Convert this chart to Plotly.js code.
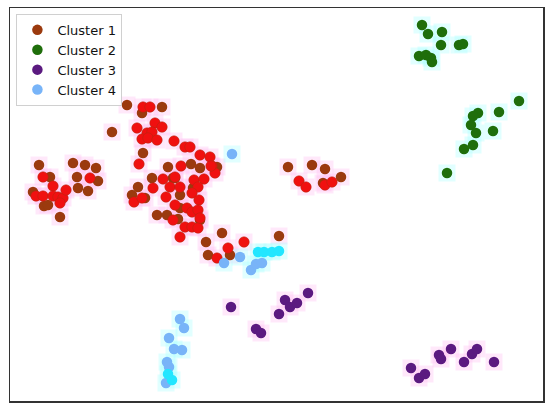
<!DOCTYPE html>
<html>
<head>
<meta charset="utf-8">
<script src="https://cdn.plot.ly/plotly-3.0.1.min.js"></script>
<style>html,body{margin:0;padding:0;background:#fff;}#chart{width:550px;height:408px;}</style>
</head>
<body>
<div id="chart"></div>
<script>
// Values (plot units = picture position inside the frame)
var c1DarkX = [127,112,143,142,162,39,73,85,96,50,77,98,78,88,33,44,48,60,288,312,325,341,323,168,191,200,217,138,152,173,180,193,157,167,178,200,222,206,208,279,230,175,132,145,180];
var c1DarkY = [105,132,153,113,107,165,163,165,168,177,177,181,188,191,192,206,205,217,167,165,169,177,183,167,164,168,167,187,178,178,195,188,215,215,219,220,233,242,255,236,255,178,195,198,208];
var c1RedX  = [143,150,137,155,162,147,152,142,148,157,174,185,190,200,210,139,181,212,215,43,90,53,36,43,53,58,63,66,60,163,175,194,204,153,170,180,198,134,142,166,192,199,175,187,192,198,173,185,192,198,180,244,217,228,299,306,325,332,200,211];
var c1RedY  = [107,107,128,123,127,133,132,139,138,140,141,147,147,155,157,164,166,166,173,177,178,186,196,196,196,197,198,190,203,179,177,180,179,188,187,187,187,202,198,197,193,200,205,208,212,210,220,227,227,228,237,242,258,248,181,187,185,182,218,166];
var c2X = [422,428,442,441,459,463,419,426,431,432,519,478,473,499,471,476,493,473,464,447];
var c2Y = [25,34,32,45,45,44,56,55,58,62,101,113,116,112,125,133,131,145,149,173];
var c3X = [411,419,425,439,441,451,464,472,477,494,231,256,261,279,285,290,297,308];
var c3Y = [368,378,374,355,359,349,362,354,349,362,307,329,333,314,300,307,303,293];
var c4BlueX = [180,184,169,174,182,167,169,166,224,240,251,256,262,232];
var c4BlueY = [319,328,338,349,350,362,367,383,263,257,270,264,263,154];
var c4CyanX = [172,168,258,264,272,279];
var c4CyanY = [380,374,252,252,252,251];

var pinkX = c1DarkX.concat(c1RedX, c3X), pinkY = c1DarkY.concat(c1RedY, c3Y);
var cyanX = c2X.concat(c4BlueX, c4CyanX), cyanY = c2Y.concat(c4BlueY, c4CyanY);

var traces = [
  {x: pinkX, y: pinkY, mode: 'markers', type: 'scatter', showlegend: false, hoverinfo: 'skip',
   marker: {symbol: 'square', size: 17, color: 'rgba(255,190,240,0.35)'}},
  {x: cyanX, y: cyanY, mode: 'markers', type: 'scatter', showlegend: false, hoverinfo: 'skip',
   marker: {symbol: 'square', size: 17, color: 'rgba(170,255,255,0.35)'}},
  {x: c1DarkX, y: c1DarkY, name: 'Cluster 1', mode: 'markers', type: 'scatter', legendgroup: 'c1',
   marker: {size: 10.5, color: '#9b3a0e'}},
  {x: c1RedX, y: c1RedY, name: 'Cluster 1', mode: 'markers', type: 'scatter', legendgroup: 'c1', showlegend: false,
   marker: {size: 10.5, color: '#f01010', line: {color: '#b02a10', width: 0.5}}},
  {x: c2X, y: c2Y, name: 'Cluster 2', mode: 'markers', type: 'scatter',
   marker: {size: 10.5, color: '#1f6e0b'}},
  {x: c3X, y: c3Y, name: 'Cluster 3', mode: 'markers', type: 'scatter',
   marker: {size: 10.5, color: '#5b1a80'}},
  {x: c4BlueX, y: c4BlueY, name: 'Cluster 4', mode: 'markers', type: 'scatter', legendgroup: 'c4',
   marker: {size: 10.5, color: '#78b4f8'}},
  {x: c4CyanX, y: c4CyanY, name: 'Cluster 4', mode: 'markers', type: 'scatter', legendgroup: 'c4', showlegend: false,
   marker: {size: 10.5, color: '#22e6ff'}}
];

var layout = {
  width: 550, height: 408,
  margin: {l: 10, r: 7, t: 8, b: 7},
  paper_bgcolor: '#fff', plot_bgcolor: '#fff',
  font: {family: 'DejaVu Sans', size: 13, color: '#111'},
  showlegend: true,
  legend: {x: 0.012, y: 0.985, xanchor: 'left', yanchor: 'top', bgcolor: 'rgba(255,255,255,0.85)',
           bordercolor: '#d0d0d0', borderwidth: 1, font: {family: 'DejaVu Sans', size: 13}, tracegroupgap: 0},
  xaxis: {range: [10, 543], showgrid: false, zeroline: false, showticklabels: false, ticks: '',
          showline: true, mirror: true, linecolor: '#333', linewidth: 1.5},
  yaxis: {range: [401, 8], showgrid: false, zeroline: false, showticklabels: false, ticks: '',
          showline: true, mirror: true, linecolor: '#333', linewidth: 1.5}
};

Plotly.newPlot('chart', traces, layout, {displayModeBar: false, staticPlot: true});
</script>
</body>
</html>
